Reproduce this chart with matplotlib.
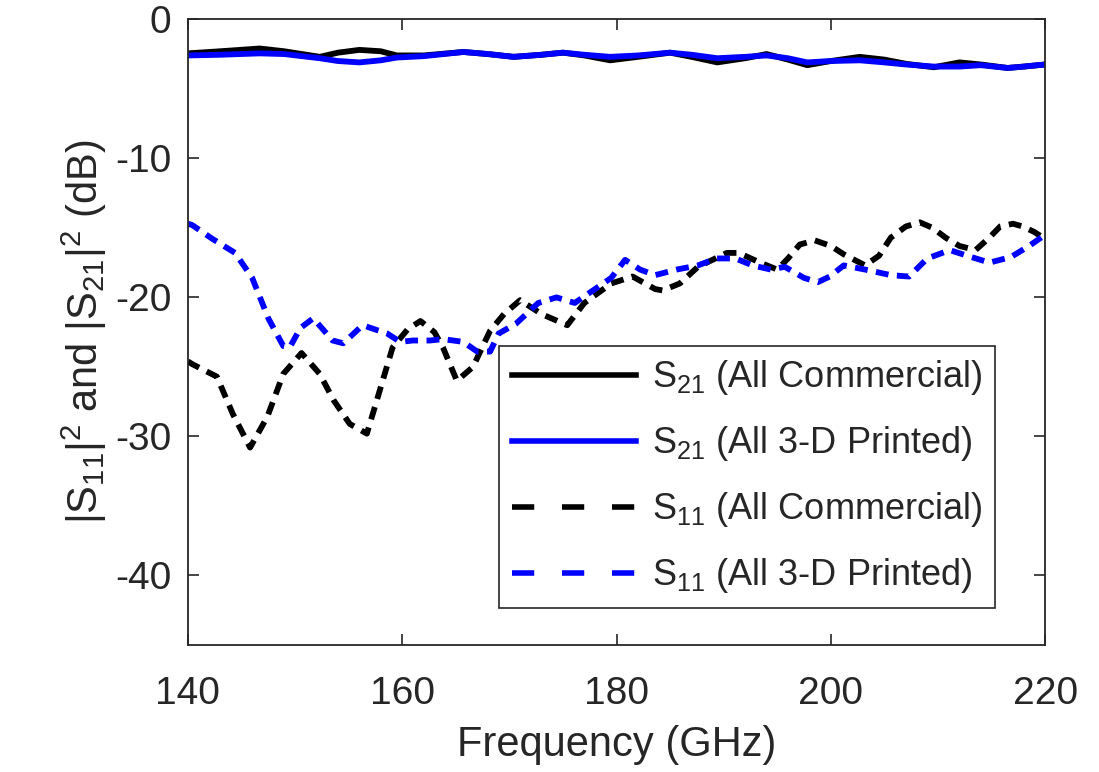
import matplotlib
matplotlib.use("Agg")
import matplotlib.pyplot as plt
from matplotlib.lines import Line2D

plt.rcParams['font.family'] = ['Liberation Sans', 'DejaVu Sans']
plt.rcParams['mathtext.fontset'] = 'custom'
plt.rcParams['mathtext.rm'] = 'Liberation Sans'
plt.rcParams['mathtext.it'] = 'Liberation Sans'
plt.rcParams['axes.unicode_minus'] = False

# ---- data (frequency in GHz, magnitude in dB) ----
f_s21 = [140, 143, 146.7, 149, 152.3, 154, 156, 158, 159.5, 162, 165.7, 168,
         170.4, 173, 175, 177, 179.4, 182, 185, 187, 189.4, 192, 194, 196,
         197.8, 200, 202.7, 205, 207, 209.6, 212, 214, 216.5, 218, 220]
s21_comm = [-2.45, -2.3, -2.1, -2.3, -2.7, -2.4, -2.2, -2.3, -2.6, -2.6, -2.35, -2.5,
            -2.7, -2.55, -2.4, -2.6, -2.95, -2.7, -2.4, -2.7, -3.1, -2.8, -2.5, -2.9,
            -3.3, -3.0, -2.7, -2.9, -3.2, -3.45, -3.1, -3.25, -3.5, -3.4, -3.25]
s21_print = [-2.6, -2.55, -2.45, -2.5, -2.8, -3.0, -3.1, -2.95, -2.75, -2.65, -2.35, -2.5,
             -2.7, -2.55, -2.4, -2.55, -2.7, -2.6, -2.4, -2.55, -2.8, -2.7, -2.6, -2.8,
             -3.1, -3.0, -2.95, -3.1, -3.25, -3.4, -3.4, -3.3, -3.5, -3.4, -3.25]

f_s11_comm = [140, 140.4, 142.7, 144.2, 145.8, 147.4, 148.9, 150.6, 152.3, 153.6, 155.1,
              156.7, 157.9, 159.1, 160.5, 161.7, 163, 163.8, 165.1, 166.6, 168.2,
              169.5, 171, 173, 175.4, 177, 179.5, 181.5, 183.6, 184.3, 185.9, 187.6,
              190.3, 191.4, 193.4, 195, 196, 197.1, 198.5, 200, 201.2, 203.2, 204.5,
              205.6, 207, 208.3, 209.5, 210.7, 212, 213.5, 214.8, 215.8, 217, 217.9,
              219, 220]
s11_comm = [-24.6, -24.8, -25.7, -28.4, -30.8, -28.6, -25.5, -24.0, -25.5, -27.4, -29.1,
            -29.8, -26.7, -23.6, -22.3, -21.7, -22.5, -23.6, -26.0, -25.0, -22.4,
            -21.2, -20.2, -21.2, -22.0, -20.4, -19.0, -18.5, -19.4, -19.5, -19.0, -17.8,
            -16.8, -16.8, -17.5, -18.0, -17.2, -16.2, -15.9, -16.3, -16.9, -17.7, -17.0,
            -15.7, -14.9, -14.6, -15.0, -15.7, -16.3, -16.6, -15.7, -14.9, -14.7, -14.9,
            -15.3, -15.8]

f_s11_print = [140, 140.4, 142.3, 144.4, 146, 147.5, 148.9, 149.5, 150.5, 151.7, 153.5,
               154.5, 156.3, 158.6, 159.8, 161, 162.6, 163.8, 165.7, 167, 168.2, 169,
               170.6, 172.7, 174.4, 176.1, 177.8, 179.5, 180.8, 182.2, 183.6, 185.6,
               187.6, 189.3, 191.1, 192.7, 194.4, 195.7, 197.5, 198.8, 199.9, 201.2,
               203.2, 205.6, 207.3, 209, 211.1, 212.7, 214.8, 216.8, 218.5, 220]
s11_print = [-14.7, -14.8, -15.8, -16.8, -18.6, -21.5, -23.5, -23.6, -22.2, -21.5, -23.1,
             -23.3, -22.0, -22.6, -23.2, -23.1, -23.1, -23.0, -23.2, -23.9, -23.9, -22.6,
             -21.9, -20.4, -20.0, -20.4, -19.5, -18.6, -17.3, -18.0, -18.4, -18.0,
             -17.7, -17.2, -17.2, -17.7, -18.0, -17.8, -18.6, -18.9, -18.5, -17.7,
             -18.0, -18.4, -18.5, -17.2, -16.6, -17.0, -17.5, -17.1, -16.3, -15.5]

labels = [r'$\mathregular{S_{21}}$ (All Commercial)',
          r'$\mathregular{S_{21}}$ (All 3-D Printed)',
          r'$\mathregular{S_{11}}$ (All Commercial)',
          r'$\mathregular{S_{11}}$ (All 3-D Printed)']
xticks = [140, 160, 180, 200, 220]
yticks = [0, -10, -20, -30, -40]

# ---- figure ----
fig = plt.figure(figsize=(10.99, 7.72), dpi=100)
ax = fig.add_axes([0.171, 0.1645, 0.780, 0.8105])

lw = 4.2
blue = (0, 0, 1)
ax.plot(f_s21, s21_comm, color='k', lw=lw, solid_capstyle='butt')
ax.plot(f_s21, s21_print, color=blue, lw=lw, solid_capstyle='butt')
ax.plot(f_s11_comm, s11_comm, color='k', lw=lw, dashes=(2.2, 1.45), dash_capstyle='butt')
ax.plot(f_s11_print, s11_print, color=blue, lw=lw, dashes=(2.2, 1.45), dash_capstyle='butt')

ax.set_xlim(140, 220)
ax.set_ylim(-45, 0)
ax.set_xticks(xticks)
ax.set_yticks(yticks)
axcol = (0.15, 0.15, 0.15)
ax.tick_params(direction='in', length=8, width=1.2, labelsize=28, colors=axcol,
               top=True, right=True)
ax.tick_params(axis='x', pad=22)
ax.tick_params(axis='y', pad=12)
for s in ax.spines.values():
    s.set_color(axcol)
    s.set_linewidth(1.3)

ax.set_xlabel('Frequency (GHz)', fontsize=30, color=axcol, labelpad=10)
ax.set_ylabel(r'$\mathregular{|S_{11}|^2}$ and $\mathregular{|S_{21}|^2}$ (dB)',
              fontsize=30, color=axcol, labelpad=4)

handles = [Line2D([], [], color='k', lw=4),
           Line2D([], [], color=blue, lw=4),
           Line2D([], [], color='k', lw=4, dashes=(4.0, 5.0), dash_capstyle='butt'),
           Line2D([], [], color=blue, lw=4, dashes=(4.0, 5.0), dash_capstyle='butt')]
leg = ax.legend(handles, labels, loc='lower right', bbox_to_anchor=(0.942, 0.059),
                borderaxespad=0, fontsize=26, handlelength=3.45, handletextpad=0.45,
                labelspacing=0.75, borderpad=0.35, fancybox=False, framealpha=1,
                edgecolor=axcol)
leg.get_frame().set_linewidth(1.2)
for t in leg.get_texts():
    t.set_color(axcol)

fig.savefig('out.png', dpi=100, facecolor='white')
